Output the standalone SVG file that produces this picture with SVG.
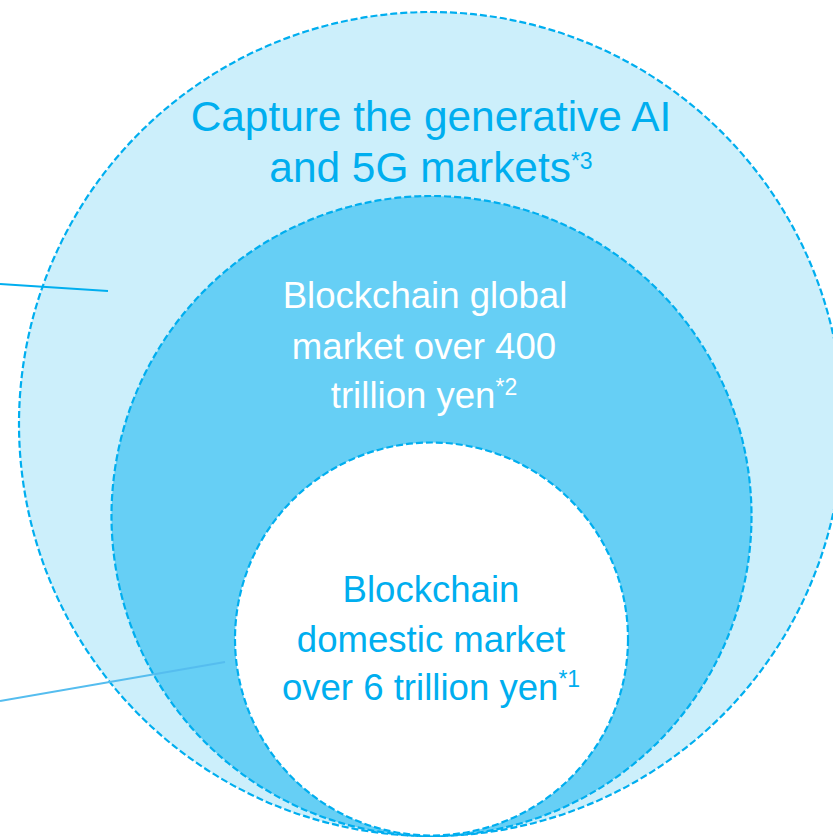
<svg xmlns="http://www.w3.org/2000/svg" width="833" height="837" viewBox="0 0 833 837">
<style>
.ring{stroke:#00AEEF;stroke-width:2.2;stroke-dasharray:7 3;}
.t{font-family:"Liberation Sans",Arial,sans-serif;text-anchor:middle;}
.blue{fill:#00AEEF;}
.white{fill:#FFFFFF;}
.sup{font-size:23px;}
</style>
<rect width="833" height="837" fill="#FFFFFF"/>
<g id="outer">
<circle class="ring" cx="431" cy="424" r="412" fill="#CCEFFB"/>
<text class="t blue" font-size="42.4" x="431" y="131">Capture the generative AI</text>
<text class="t blue" font-size="42.4" x="431" y="182">and 5G markets<tspan class="sup" dy="-13">*3</tspan></text>
</g>
<g id="middle">
<circle class="ring" cx="431.5" cy="516" r="320" fill="#66CFF5"/>
<text class="t white" font-size="36.6" x="425" y="308">Blockchain global</text>
<text class="t white" font-size="36.6" x="424" y="359">market over 400</text>
<text class="t white" font-size="36.6" x="424" y="408">trillion yen<tspan class="sup" dy="-13">*2</tspan></text>
</g>
<g id="inner">
<circle class="ring" cx="431.5" cy="639" r="196.5" fill="#FFFFFF"/>
<text class="t blue" font-size="36.6" x="431" y="602">Blockchain</text>
<text class="t blue" font-size="36.6" x="431" y="652">domestic market</text>
<text class="t blue" font-size="36.6" x="431" y="700">over 6 trillion yen<tspan class="sup" dy="-13">*1</tspan></text>
</g>
<g id="connectors">
<line x1="0" y1="284" x2="108" y2="291" stroke="#00AEEF" stroke-width="2"/>
<line x1="0" y1="701" x2="225" y2="662" stroke="#55BDEF" stroke-width="2"/>
</g>
</svg>
